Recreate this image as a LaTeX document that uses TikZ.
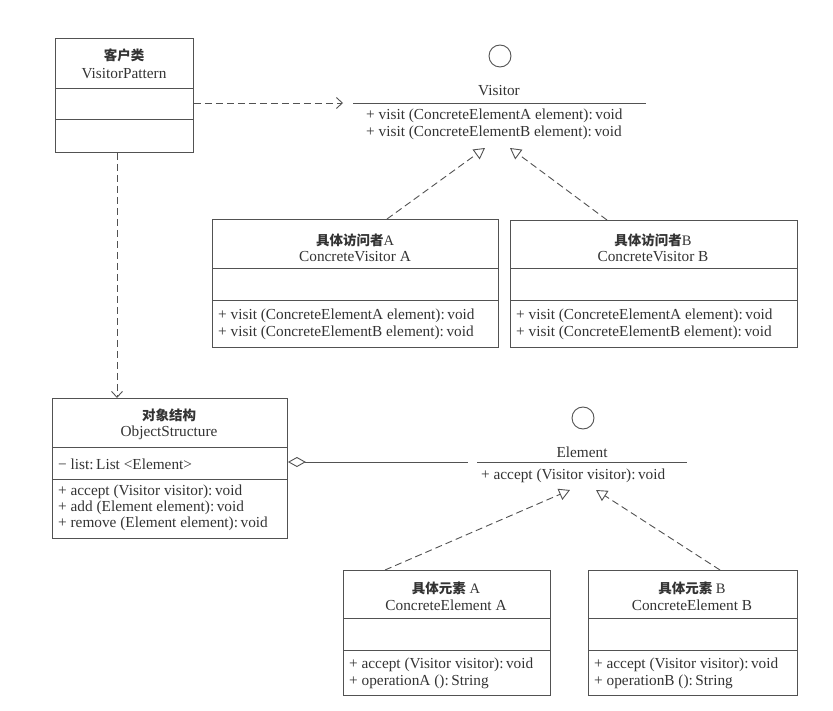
\documentclass[tikz,border=0pt]{standalone}
\usepackage{fontspec}
\setmainfont{Liberation Serif}
\newfontfamily\cjk{Noto Sans CJK SC}
\usetikzlibrary{arrows.meta}
\definecolor{ln}{gray}{0.32}
\definecolor{tx}{gray}{0.2}
\begin{document}
\begin{tikzpicture}[x=1pt,y=-1pt,
  umlbox/.style={draw=ln, line width=0.9pt, inner sep=0pt, anchor=north west},
  divider/.style={draw=ln, line width=0.9pt},
  txt/.style={text=tx, inner sep=0pt, font=\fontsize{15.3}{17}\selectfont},
  cjktxt/.style={text=tx, inner sep=0pt, font=\fontsize{14.5}{16}\selectfont},
  meth/.style={txt, anchor=west},
  dep/.style={draw=ln, line width=0.9pt, dash pattern=on 7pt off 4pt, -{Straight Barb[length=6pt,width=11pt]}},
  real/.style={draw=ln, line width=0.9pt, dash pattern=on 7pt off 4pt, -{Triangle[open,length=11pt,width=12pt]}},
  agg/.style={draw=ln, line width=0.9pt, {Diamond[open,length=18pt,width=10pt]}-},
  iface/.style={draw=ln, line width=0.9pt, circle, minimum size=22pt, inner sep=0pt}]
\newcommand{\zh}[1]{{\cjk\bfseries\fontsize{13.5}{16}\selectfont #1}}

\useasboundingbox (0,0) rectangle (833,711);

% ---------- VisitorPattern ----------
\node[umlbox, minimum width=138pt, minimum height=114pt] (vp) at (55,38) {};
\draw[divider] (vp.west |- 0,88) -- (vp.east |- 0,88);
\draw[divider] (vp.west |- 0,119) -- (vp.east |- 0,119);
\node[cjktxt] (vpcn) at (124,55) {\zh{客户类}};
\node[txt] (vpen) at (124,74) {VisitorPattern};

% ---------- Visitor interface ----------
\node[iface] (vcirc) at (500,56) {};
\node[txt] (vname) at (499,91) {Visitor};
\coordinate (vl) at (353,103);
\coordinate (vr) at (646,103);
\draw[divider] (vl) -- (vr);
\node[meth] (vm1) at (366,116) {+ visit (ConcreteElementA element):\,void};
\node[meth] (vm2) at (366,133) {+ visit (ConcreteElementB element):\,void};

% ---------- ConcreteVisitor A ----------
\node[umlbox, minimum width=286pt, minimum height=128pt] (cva) at (212,219) {};
\draw[divider] (cva.west |- 0,268) -- (cva.east |- 0,268);
\draw[divider] (cva.west |- 0,300) -- (cva.east |- 0,300);
\node[cjktxt] (cvacn) at (355,240) {\zh{具体访问者}A};
\node[txt] (cvaen) at (355,257) {ConcreteVisitor A};
\node[meth] (cvam1) at (218,316) {+ visit (ConcreteElementA element):\,void};
\node[meth] (cvam2) at (218,333) {+ visit (ConcreteElementB element):\,void};

% ---------- ConcreteVisitor B ----------
\node[umlbox, minimum width=287pt, minimum height=127pt] (cvb) at (510,220) {};
\draw[divider] (cvb.west |- 0,268) -- (cvb.east |- 0,268);
\draw[divider] (cvb.west |- 0,300) -- (cvb.east |- 0,300);
\node[cjktxt] (cvbcn) at (653,240) {\zh{具体访问者}B};
\node[txt] (cvben) at (653,257) {ConcreteVisitor B};
\node[meth] (cvbm1) at (516,316) {+ visit (ConcreteElementA element):\,void};
\node[meth] (cvbm2) at (516,333) {+ visit (ConcreteElementB element):\,void};

% ---------- ObjectStructure ----------
\node[umlbox, minimum width=235pt, minimum height=140pt] (os) at (52,398) {};
\draw[divider] (os.west |- 0,447) -- (os.east |- 0,447);
\draw[divider] (os.west |- 0,479) -- (os.east |- 0,479);
\node[cjktxt] (oscn) at (169,415) {\zh{对象结构}};
\node[txt] (osen) at (169,433) {ObjectStructure};
\node[meth] (osa1) at (58,464) {− list:\,List <Element>};
\node[meth] (osm1) at (58,492) {+ accept (Visitor visitor):\,void};
\node[meth] (osm2) at (58,508) {+ add (Element element):\,void};
\node[meth] (osm3) at (58,524) {+ remove (Element element):\,void};

% ---------- Element interface ----------
\node[iface] (ecirc) at (583,418) {};
\node[txt] (ename) at (582,452) {Element};
\coordinate (el) at (477,462);
\coordinate (er) at (687,462);
\draw[divider] (el) -- (er);
\node[meth] (em1) at (481,476) {+ accept (Visitor visitor):\,void};

% ---------- ConcreteElement A ----------
\node[umlbox, minimum width=207pt, minimum height=125pt] (cea) at (343,570) {};
\draw[divider] (cea.west |- 0,618) -- (cea.east |- 0,618);
\draw[divider] (cea.west |- 0,650) -- (cea.east |- 0,650);
\node[cjktxt] (ceacn) at (446,588) {\zh{具体元素} A};
\node[txt] (ceaen) at (446,605) {ConcreteElement A};
\node[meth] (ceam1) at (349,665) {+ accept (Visitor visitor):\,void};
\node[meth] (ceam2) at (349,682) {+ operationA ():\,String};

% ---------- ConcreteElement B ----------
\node[umlbox, minimum width=209pt, minimum height=125pt] (ceb) at (588,570) {};
\draw[divider] (ceb.west |- 0,618) -- (ceb.east |- 0,618);
\draw[divider] (ceb.west |- 0,650) -- (ceb.east |- 0,650);
\node[cjktxt] (cebcn) at (692,588) {\zh{具体元素} B};
\node[txt] (ceben) at (692,605) {ConcreteElement B};
\node[meth] (cebm1) at (594,665) {+ accept (Visitor visitor):\,void};
\node[meth] (cebm2) at (594,682) {+ operationB ():\,String};

% ---------- connectors ----------
\coordinate (vdep) at (343,103);
\draw[dep] (vp.east |- vdep) -- (vdep);
\draw[dep] ([xshift=62pt]vp.south west) -- ([xshift=62pt]vp.south west |- os.north);

\coordinate (vtA) at (485,148);
\coordinate (vtB) at (510,148);
\draw[real] ([xshift=175pt]cva.north west) -- (vtA);
\draw[real] ([xshift=97pt]cvb.north west) -- (vtB);

\coordinate (eagg) at (468,462);
\draw[agg] (os.east |- eagg) -- (eagg);

\coordinate (etA) at (570,490);
\coordinate (etB) at (596,490);
\draw[real] ([xshift=42pt]cea.north west) -- (etA);
\draw[real] ([xshift=132pt]ceb.north west) -- (etB);
\end{tikzpicture}
\end{document}
